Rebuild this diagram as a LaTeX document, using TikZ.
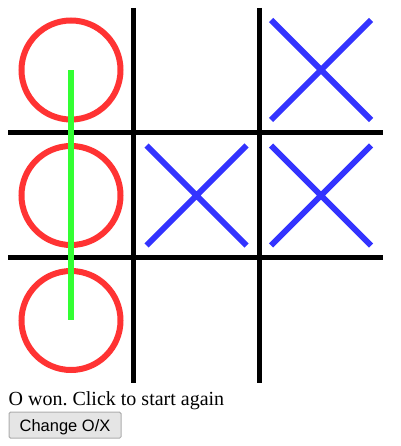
\documentclass[tikz,border=0pt]{standalone}
\usepackage{fontspec}
\setmainfont{Liberation Serif}
\newfontfamily\btnfont{Liberation Sans}
\definecolor{ored}{RGB}{255,51,51}
\definecolor{xblue}{RGB}{51,51,255}
\definecolor{wgreen}{RGB}{51,255,51}
\definecolor{btnfill}{RGB}{229,229,229}
\definecolor{btnedge}{RGB}{173,173,173}
\frenchspacing
\tikzset{
  gridline/.style={black,line width=5pt},
  omark/.style={ored,line width=6pt},
  xmark/.style={xblue,line width=6pt},
  winline/.style={wgreen,line width=6pt},
  status/.style={anchor=base west,inner sep=0pt,font=\fontsize{20}{24}\selectfont},
  button/.style={draw=btnedge,fill=btnfill,line width=1pt,rounded corners=1.5pt,
    minimum width=112pt,minimum height=26pt,inner sep=0pt,text height=11.8pt,text depth=0pt,
    font=\btnfont\fontsize{16.5}{20}\selectfont},
}
\begin{document}
\begin{tikzpicture}[x=1pt,y=-1pt]
\useasboundingbox (0,0) rectangle (400,446);
% grid
\draw[gridline] (133.5,8) -- (133.5,383);
\draw[gridline] (259,8) -- (259,383);
\draw[gridline] (8,132.5) -- (383,132.5);
\draw[gridline] (8,257.5) -- (383,257.5);
% O marks
\draw[omark] (71,70) circle (49.5);
\draw[omark] (71,195.5) circle (49.5);
\draw[omark] (71,320.5) circle (49.5);
% X marks
\draw[xmark] (271,20) -- (371,120) (271,120) -- (371,20);
\draw[xmark] (146.5,145.5) -- (246.5,245.5) (146.5,245.5) -- (246.5,145.5);
\draw[xmark] (271,145.5) -- (371,245.5) (271,245.5) -- (371,145.5);
% winning line
\draw[winline] (71,70.5) -- (71,320);
% status and button
\node[status] (msg) at (8.5,405.7) {O won. Click to start again};
\node[button] (btn) at (65,425.2) {Change O/X};
\end{tikzpicture}
\end{document}
